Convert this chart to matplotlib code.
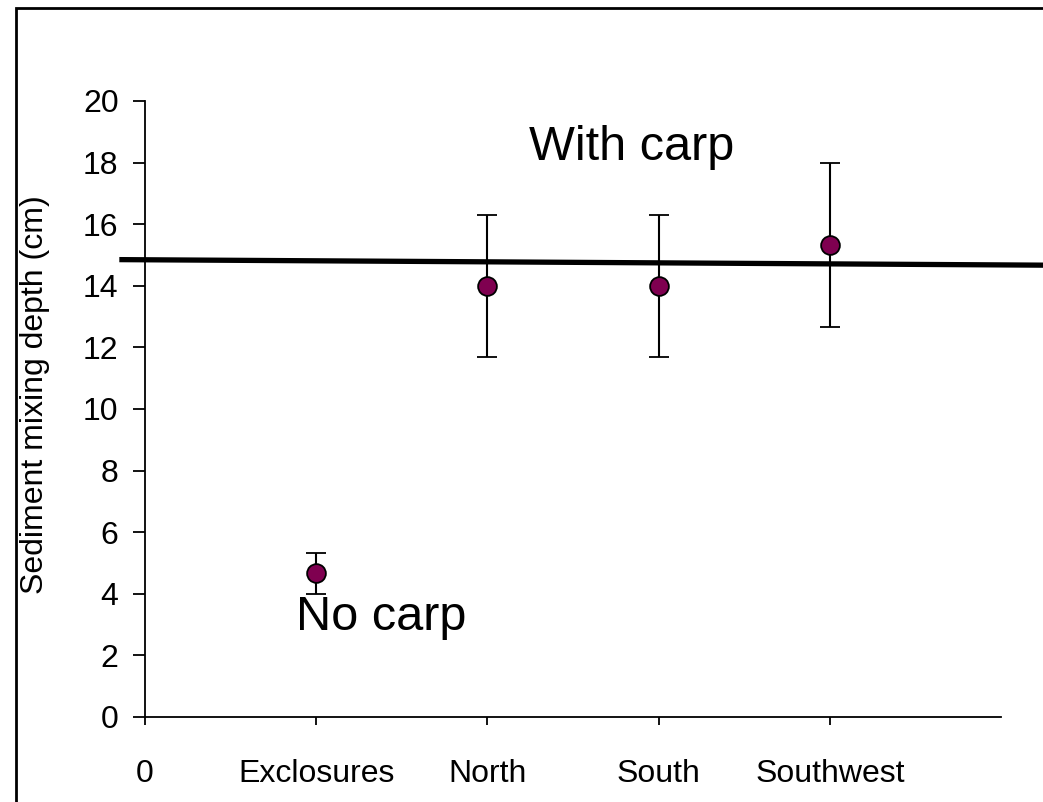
import matplotlib
matplotlib.use("Agg")
import matplotlib.pyplot as plt
from matplotlib.patches import Rectangle

plt.rcParams["font.family"] = ["Liberation Sans", "DejaVu Sans"]

# site means and half-ranges of the error bars (cm)
sites = ["Exclosures", "North", "South", "Southwest"]
site_x = [1, 2, 3, 4]
depth = [4.67, 14.0, 14.0, 15.33]
depth_err = [0.67, 2.3, 2.3, 2.67]

# reference line across the carp sites
ref_x = [-0.15, 5.25]
ref_y = [14.85, 14.67]

xtick_pos = [0, 1, 2, 3, 4]
xtick_labels = ["0"] + sites
ytick_pos = list(range(0, 21, 2))

W, H = 1043, 802
fig = plt.figure(figsize=(W / 100, H / 100), dpi=100)
ax = fig.add_axes([145 / W, 1 - 717 / H, (1001 - 145) / W, (717 - 101) / H])

ax.errorbar(site_x, depth, yerr=depth_err, fmt="o", color="black", ecolor="black",
            elinewidth=1.5, capsize=7, capthick=1.5, ms=13.5,
            mfc="#7f0050", mec="black", mew=1.3, zorder=3)
ax.plot(ref_x, ref_y, color="black", lw=3.8, clip_on=False, zorder=2,
        solid_capstyle="butt")

ax.set_xlim(0, 5)
ax.set_ylim(0, 20)
ax.set_xticks(xtick_pos)
ax.set_xticklabels(xtick_labels)
ax.set_yticks(ytick_pos)
for s in ("top", "right"):
    ax.spines[s].set_visible(False)
for s in ("left", "bottom"):
    ax.spines[s].set_linewidth(1.3)
ax.tick_params(axis="x", direction="out", length=6, width=1.3, pad=24, labelsize=23)
ax.tick_params(axis="y", direction="out", length=9, width=1.3, pad=10, labelsize=23)

fig.text(35 / W, 1 - 395 / H, "Sediment mixing depth (cm)", rotation=90,
         ha="center", va="center", fontsize=23)

ax.text(2.84, 18.1, "With carp", ha="center", va="baseline", fontsize=35)
ax.text(1.38, 2.82, "No carp", ha="center", va="baseline", fontsize=35)

# outer frame (open on the right and bottom)
fig.add_artist(Rectangle((16 / W, -0.1), 1.2, 1.1 - 8 / H,
                         transform=fig.transFigure, fill=False,
                         edgecolor="black", lw=2))

fig.savefig("out.png", dpi=100)
